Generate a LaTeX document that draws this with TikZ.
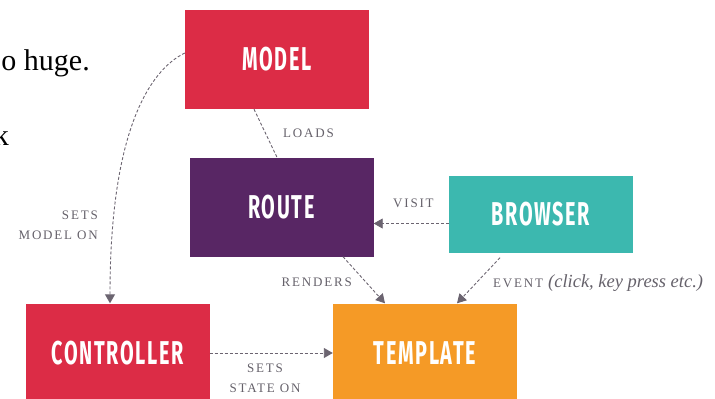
\documentclass[tikz,border=0pt]{standalone}
\usepackage{fontspec}
\setmainfont{Liberation Serif}
\newfontfamily\boxfont[FakeStretch=0.6,LetterSpace=5]{Fira Sans}
\newfontfamily\tagfont[LetterSpace=14]{Liberation Serif}
\usetikzlibrary{arrows.meta,positioning}
\definecolor{modelred}{HTML}{DC2C46}
\definecolor{routepurple}{HTML}{582664}
\definecolor{browserteal}{HTML}{3CB8AF}
\definecolor{templateorange}{HTML}{F59A26}
\definecolor{linkgrey}{HTML}{6B6470}
\definecolor{taggrey}{HTML}{65616A}

\begin{document}
\begin{tikzpicture}[x=1pt,y=-1pt]
	\tikzstyle{block}=[minimum width=184pt, minimum height=99pt, inner sep=0pt, text=white, font=\boxfont\bfseries\fontsize{33}{33}\selectfont]
	\tikzstyle{link}=[line width=0.9pt, linkgrey, dash pattern=on 3pt off 2pt]
	\tikzstyle{tag}=[inner sep=0pt, text=taggrey, font=\tagfont\fontsize{13}{20}\selectfont]
	\useasboundingbox (0,0) rectangle (715,399);
	% text cut off at the left edge
	\node [anchor=base east, inner sep=0pt, font=\fontsize{30}{30}\selectfont] (huge) at (90,70) {o huge.};
	\node [anchor=base east, inner sep=0pt, font=\fontsize{30}{30}\selectfont] (cut) at (9,145) {k};
	% boxes
	\node [block, fill=modelred] (model) at (277,59.5) {MODEL};
	\node [block, fill=routepurple] (route) at (281.5,207) {ROUTE};
	\node [block, fill=browserteal, minimum height=77pt] (browser) at (541,214) {BROWSER};
	\node [block, fill=modelred] (controller) at (117.5,353) {CONTROLLER};
	\node [block, fill=templateorange] (template) at (425,353) {TEMPLATE};
	% connectors
	\draw [link] ([xshift=-23pt]model.south) -- ([xshift=-4.5pt]route.north);
	\draw [link, -{Triangle[length=9pt,width=10pt]}] ([yshift=6.5pt]model.west) .. controls (150,70) and (110,130) .. ([xshift=-7.5pt]controller.north);
	\coordinate (visit) at ([yshift=-9.5pt]browser.west);
	\draw [link, -{Triangle[length=9pt,width=10pt]}] (visit) -- (visit -| route.east);
	\draw [link, -{Triangle[length=9pt,width=10pt]}] ([xshift=61.5pt]route.south) -- ([xshift=-40pt]template.north);
	\draw [link, -{Triangle[length=9pt,width=10pt]}] ([xshift=-41pt,yshift=-5pt]browser.south) -- ([xshift=32pt]template.north);
	\draw [link, -{Triangle[length=9pt,width=10pt]}] (controller.east) -- (template.west);
	% labels
	\node [tag, anchor=base west] (loads) at (283,137) {LOADS};
	\node [tag, anchor=east, align=right] (setsmodel) at (98,225) {SETS\\MODEL ON};
	\node [tag, anchor=base west] (visitlabel) at (393,207) {VISIT};
	\node [tag, anchor=base east] (renders) at (352,286) {RENDERS};
	\node [tag, anchor=base west] (event) at (493,287) {EVENT {\rmfamily\itshape\fontsize{18.5}{18.5}\selectfont (click, key press etc.)}};
	\node [tag, align=center] (setsstate) at (265,378) {SETS\\STATE ON};
\end{tikzpicture}
\end{document}
